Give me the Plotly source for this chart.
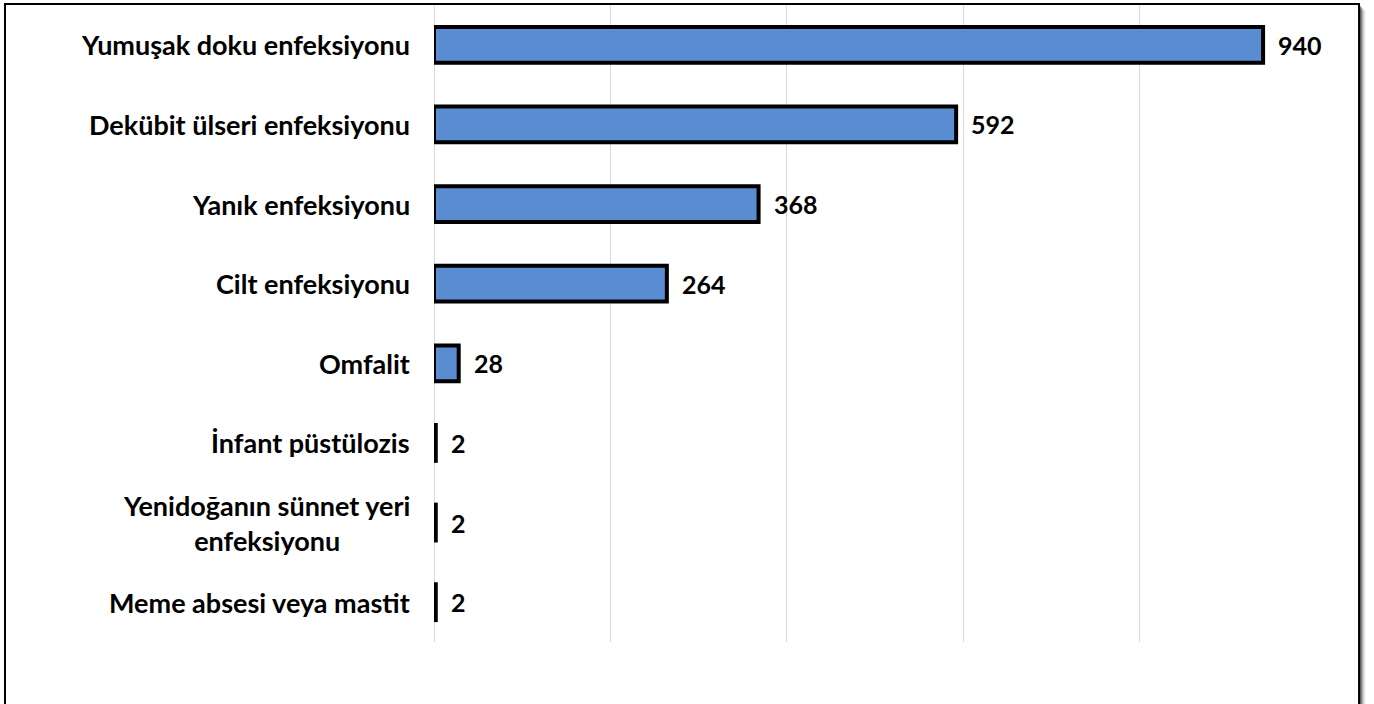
import plotly.graph_objects as go

categories = [
    "Yumuşak doku enfeksiyonu",
    "Dekübit ülseri enfeksiyonu",
    "Yanık enfeksiyonu",
    "Cilt enfeksiyonu",
    "Omfalit",
    "İnfant püstülozis",
    "Yenidoğanın sünnet yeri<br>enfeksiyonu",
    "Meme absesi veya mastit",
]
values = [940, 592, 368, 264, 28, 2, 2, 2]
value_labels = [str(v) for v in values]

FONT = "Lato, 'Open Sans', sans-serif"

fig = go.Figure()
fig.add_trace(go.Bar(
    y=categories,
    x=values,
    orientation="h",
    marker=dict(color="#5a8cd2", line=dict(color="#000000", width=4)),
    cliponaxis=False,
    hoverinfo="skip",
))

# category labels (center-aligned multi-line)
for c in categories:
    fig.add_annotation(
        x=0, xref="paper", y=c, yref="y",
        text="<b>" + c + "</b>", showarrow=False,
        xanchor="right", xshift=-22, align="center",
        font=dict(family=FONT, size=27, color="#000000"),
    )

# value labels
for c, v, t in zip(categories, values, value_labels):
    fig.add_annotation(
        x=v, xref="x", y=c, yref="y",
        text="<b>" + t + "</b>", showarrow=False,
        xanchor="left", xshift=13,
        font=dict(family=FONT, size=25, color="#000000"),
    )

# outer frame with soft shadow
W, H = 882, 637
for i, op in enumerate([0.30, 0.22, 0.15, 0.10, 0.06, 0.03]):
    fig.add_shape(type="rect", xref="paper", yref="paper",
                  x0=-0.4864, x1=1.0488 + (i + 2) / W,
                  y0=-0.2, y1=1.0016 - (i + 2) / H,
                  line=dict(width=0), fillcolor=f"rgba(0,0,0,{op})", layer="below")
fig.add_shape(type="rect", xref="paper", yref="paper",
              x0=-0.4864, x1=1.0488, y0=-0.2, y1=1.0016,
              line=dict(color="#000000", width=2), fillcolor="#ffffff", layer="below")

fig.update_layout(
    width=1374, height=704,
    margin=dict(l=434, r=58, t=5, b=62),
    paper_bgcolor="#ffffff", plot_bgcolor="rgba(0,0,0,0)",
    showlegend=False,
    bargap=0.55,
    font=dict(family=FONT),
    xaxis=dict(range=[0, 1000], dtick=200, showgrid=True, gridcolor="#d9d9d9",
               gridwidth=1, zeroline=True, zerolinecolor="#d9d9d9", zerolinewidth=1,
               showticklabels=False, showline=False, ticks=""),
    yaxis=dict(autorange="reversed", showticklabels=False, showgrid=False,
               showline=False, ticks=""),
)

fig.write_html("out.html", config={"displayModeBar": False},
               post_script="document.body.style.margin='0';document.body.style.overflow='hidden';")
